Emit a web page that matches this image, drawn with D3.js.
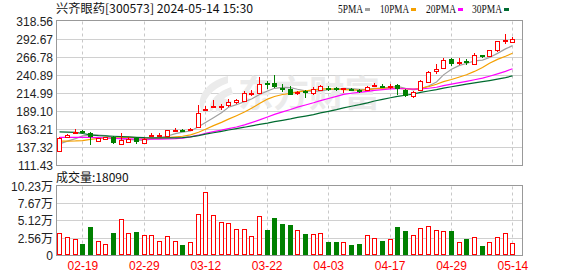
<!DOCTYPE html>
<html lang="zh">
<head>
<meta charset="utf-8">
<script src="https://d3js.org/d3.v7.min.js"></script>
<style>
  body { margin: 0; background: #fff; }
  svg { display: block; font-family: "Liberation Sans", Arial, sans-serif; }
  .cjk { font-family: "Noto Sans CJK SC", "Liberation Sans", sans-serif; }
</style>
</head>
<body>
<div id="chart"></div>
<script>
// ---- data ----
var dates = ["02-06","02-07","02-08","02-19","02-20","02-21","02-22","02-23","02-26","02-27",
  "02-28","02-29","03-01","03-04","03-05","03-06","03-07","03-08","03-11","03-12",
  "03-13","03-14","03-15","03-18","03-19","03-20","03-21","03-22","03-25","03-26",
  "03-27","03-28","03-29","04-01","04-02","04-03","04-08","04-09","04-10","04-11",
  "04-12","04-15","04-16","04-17","04-18","04-19","04-22","04-23","04-24","04-25",
  "04-26","04-29","04-30","05-06","05-07","05-08","05-09","05-10","05-13","05-14"];
var opens = [132.9,152.4,158.0,160.9,158.5,146.6,149.5,152.5,142.4,145.5,
  151.0,143.3,154.8,155.0,154.2,160.5,162.0,162.5,166.2,191.5,
  195.0,195.5,198.0,203.0,204.5,214.0,216.0,230.5,230.0,223.5,
  222.0,215.5,218.0,215.0,220.7,223.5,222.3,221.5,221.5,219.5,
  219.5,227.0,226.0,225.5,227.5,220.5,211.5,219.5,231.5,247.5,
  251.5,265.0,259.0,261.5,258.0,270.3,269.5,277.5,290.0,289.5];
var highs = [152.2,157.0,163.3,162.3,159.4,151.5,153.0,153.5,157.5,152.0,
  152.0,150.5,158.0,157.5,163.2,165.0,164.0,165.5,198.0,196.5,
  205.0,200.5,207.0,207.5,218.0,219.7,238.5,233.0,241.0,228.0,
  225.5,218.5,219.7,224.0,227.8,226.4,224.0,223.5,223.0,221.0,
  226.0,230.0,228.5,229.0,229.0,221.0,219.0,235.0,247.5,258.0,
  266.0,266.0,266.5,264.0,273.0,271.0,278.0,291.0,301.0,296.0];
var lows = [131.0,150.4,157.0,157.0,141.5,145.5,148.5,143.0,141.0,143.5,
  143.0,142.0,153.5,153.5,153.5,159.0,159.0,161.0,165.0,190.0,
  194.5,191.0,195.5,200.5,203.0,212.0,214.0,222.0,223.0,217.0,
  212.5,213.5,208.0,213.0,218.7,219.0,219.0,215.8,218.5,215.5,
  218.0,225.5,222.5,222.0,212.5,210.5,209.0,218.0,230.0,243.5,
  250.5,254.0,255.5,255.5,257.0,266.0,268.5,274.0,286.5,287.0];
var closes = [150.8,155.2,159.0,157.6,152.6,150.8,152.0,144.5,147.9,150.0,
  145.5,149.5,156.0,155.8,162.8,162.0,161.0,163.5,187.1,193.0,
  196.5,197.0,203.0,205.0,215.0,215.5,229.0,228.5,224.5,222.0,
  213.5,217.0,216.5,221.0,225.4,222.0,221.0,222.5,220.0,217.0,
  224.5,227.8,225.0,226.5,222.0,211.0,217.0,233.0,246.0,250.5,
  262.5,258.0,260.5,259.0,270.0,267.5,277.0,290.0,291.5,293.0];
// volume, unit 万
var volumes = [3.33,2.73,2.43,1.74,4.27,2.14,1.69,3.38,5.41,3.33,
  3.53,3.03,3.03,2.14,2.88,2.14,1.59,1.99,6.16,9.44,
  6.01,4.97,4.82,3.92,3.92,2.88,5.86,3.82,5.61,4.72,
  4.57,3.77,3.23,3.18,3.33,2.04,2.04,1.99,1.59,1.74,
  3.03,2.58,2.19,2.43,4.27,3.67,3.03,4.12,4.37,3.77,
  3.63,3.67,1.99,2.48,2.73,1.44,1.99,2.73,3.33,1.81];
// moving-average values on the first days (their window reaches before the visible range)
var ma5Head = [142.5,146.5,150.0,154.0];
var ma10Head = [146.6,146.6,146.8,147.2,149.0,150.5,151.0,151.2,151.5];
var ma20Head = [151.8,151.8,151.8,151.8,151.8,151.5,151.0,150.5,150.0,149.7,
  149.5,149.3,149.3,149.5,149.8,150.2,150.8,152.5,155.0];
var ma30Head = [159.8,159.5,159.0,157.5,155.5,154.5,154.0,153.5,153.0,152.5,
  152.0,151.5,151.3,151.2,151.2,151.3,151.6,152.5,154.5,156.5,
  158.5,160.5,162.5,164.5,166.5,168.5,170.5,172.5,174.5];

var priceTicks = [111.43,137.32,163.21,189.10,214.99,240.89,266.78,292.67,318.56];
var volTicks = [0,2.56,5.12,7.67,10.23];
var dateTicks = ["02-19","02-29","03-12","03-22","04-03","04-17","04-29","05-14"];

var title = "兴齐眼药[300573] 2024-05-14 15:30";
var volTitle = "成交量:18090";
var maNames = ["5PMA","10PMA","20PMA","30PMA"];
var maColors = ["#a0a0a0","#f5a000","#ff00ff","#006b30"];

var RED = "#ff0000", GREEN = "#008000";

// ---- layout ----
var W = 578, H = 276;
var left = 56, right = 522;
var mainTop = 21.5, mainBottom = 165.5;
var volTop = 186.5, volBottom = 255.5;

var svg = d3.select("#chart").append("svg")
  .attr("width", W).attr("height", H);

var x = d3.scaleBand().domain(dates).range([left, right])
  .paddingInner(0).paddingOuter(0.34).align(0);
var cx = function (d) { return Math.floor(x(d) + x.bandwidth() / 2); };

var y = d3.scaleLinear().domain([priceTicks[0], priceTicks[priceTicks.length - 1]])
  .range([mainBottom, mainTop]);
var yv = d3.scaleLinear().domain([0, 10.23]).range([volBottom, volTop]);

function maSeries(n, head) {
  return closes.map(function (c, i) {
    if (i < head.length) return head[i];
    return d3.mean(closes.slice(i - n + 1, i + 1));
  });
}
var mas = [maSeries(5, ma5Head), maSeries(10, ma10Head), maSeries(20, ma20Head), maSeries(30, ma30Head)];

// ---- grids ----
var grid = svg.append("g");
grid.selectAll(".hg").data(priceTicks.slice(1, -1)).enter().append("line")
  .attr("x1", left).attr("x2", right + 0.5)
  .attr("y1", function (d) { return Math.round(y(d) - 0.5) + 0.5; })
  .attr("y2", function (d) { return Math.round(y(d) - 0.5) + 0.5; })
  .attr("stroke", "#d0d0d0");
grid.selectAll(".vg").data(volTicks.slice(1, -1)).enter().append("line")
  .attr("x1", left).attr("x2", right + 0.5)
  .attr("y1", function (d) { return Math.round(yv(d) - 0.5) + 0.5; })
  .attr("y2", function (d) { return Math.round(yv(d) - 0.5) + 0.5; })
  .attr("stroke", "#d0d0d0");
[[mainTop, mainBottom], [volTop, volBottom]].forEach(function (r) {
  grid.selectAll(null).data(dateTicks).enter().append("line")
    .attr("x1", function (d) { return cx(d) + 0.5; })
    .attr("x2", function (d) { return cx(d) + 0.5; })
    .attr("y1", r[0]).attr("y2", r[1])
    .attr("stroke", "#c8c8c8").attr("stroke-dasharray", "3,3");
});

// ---- watermark ----
var wm = svg.append("g").attr("fill", "#ebebeb");
wm.append("path")
  .attr("d", "M228,76 C204,82 194,100 203,113 C203,100 211,89 228,83 Z M231,87 C214,93 207,104 211,113 C215,104 222,98 233,94 Z M223,98 C214,104 214,110 218,113 C222,108 226,104 233,102 Z");
wm.append("text").attr("class", "cjk")
  .attr("x", 238).attr("y", 107)
  .attr("font-size", 36).attr("font-weight", "bold")
  .attr("textLength", 142).attr("lengthAdjust", "spacingAndGlyphs")
  .text("东方财富");

// ---- MA lines ----
var line = d3.line()
  .x(function (d, i) { return cx(dates[i]) + 0.5; })
  .y(function (d) { return y(d); });
svg.append("g").selectAll("path").data(mas).enter().append("path")
  .attr("d", line)
  .attr("fill", "none")
  .attr("stroke", function (d, i) { return maColors[i]; })
  .attr("stroke-width", 1.2);

// ---- candles ----
var candles = svg.append("g").selectAll("g").data(dates).enter().append("g");
candles.append("line")
  .attr("x1", function (d) { return cx(d) + 0.5; })
  .attr("x2", function (d) { return cx(d) + 0.5; })
  .attr("y1", function (d, i) { return Math.round(y(highs[i])); })
  .attr("y2", function (d, i) { return Math.round(y(lows[i])); })
  .attr("stroke", function (d, i) { return closes[i] >= opens[i] ? RED : GREEN; });
candles.each(function (d, i) {
  var up = closes[i] >= opens[i];
  var top = Math.round(y(Math.max(opens[i], closes[i])));
  var bot = Math.round(y(Math.min(opens[i], closes[i])));
  var g = d3.select(this);
  if (up) {
    g.append("rect")
      .attr("x", cx(d) - 2 + 0.5).attr("y", top + 0.5)
      .attr("width", 4).attr("height", Math.max(bot - top, 1))
      .attr("fill", "#fff").attr("stroke", RED);
  } else {
    g.append("rect")
      .attr("x", cx(d) - 2).attr("y", top)
      .attr("width", 5).attr("height", Math.max(bot - top, 2))
      .attr("fill", GREEN);
  }
});

// ---- volume bars ----
svg.append("g").selectAll("rect").data(volumes).enter().append("rect")
  .each(function (v, i) {
    var up = closes[i] >= opens[i];
    var top = Math.round(yv(v));
    var r = d3.select(this);
    if (up) {
      r.attr("x", cx(dates[i]) - 2 + 0.5).attr("y", top + 0.5)
        .attr("width", 4).attr("height", Math.floor(volBottom) - top - 1)
        .attr("fill", "#fff").attr("stroke", RED);
    } else {
      r.attr("x", cx(dates[i]) - 2).attr("y", top)
        .attr("width", 5).attr("height", Math.floor(volBottom) - top)
        .attr("fill", GREEN);
    }
  });

// ---- frames ----
[[mainTop, mainBottom], [volTop, volBottom]].forEach(function (r) {
  svg.append("rect")
    .attr("x", left + 0.5).attr("y", r[0] - 1)
    .attr("width", right - left).attr("height", r[1] - r[0] + 1)
    .attr("fill", "none").attr("stroke", "#999");
});

// ---- axes ----
var yAxis = svg.append("g").attr("transform", "translate(" + left + ",0)")
  .call(d3.axisLeft(y).tickValues(priceTicks).tickSize(0).tickPadding(3)
    .tickFormat(function (d) { return d.toFixed(2); }));
var vAxis = svg.append("g").attr("transform", "translate(" + left + ",0)")
  .call(d3.axisLeft(yv).tickValues(volTicks).tickSize(0).tickPadding(3)
    .tickFormat(function (d) { return d === 0 ? "0" : d.toFixed(2) + "万"; }));
var xAxis = svg.append("g").attr("transform", "translate(0," + volBottom + ")")
  .call(d3.axisBottom(x).tickValues(dateTicks).tickSize(0).tickPadding(6));
[yAxis, vAxis, xAxis].forEach(function (a) {
  a.select(".domain").remove();
  a.selectAll("text").attr("font-size", 12)
    .attr("font-family", "'Liberation Sans', 'Noto Sans CJK SC', sans-serif")
    .attr("fill", "#222");
});
xAxis.selectAll("text").attr("fill", RED);

// ---- titles and legend ----
svg.append("text").attr("class", "cjk")
  .attr("x", 56).attr("y", 13).attr("font-size", 12).attr("fill", "#111")
  .attr("textLength", 197).attr("lengthAdjust", "spacingAndGlyphs")
  .text(title);
svg.append("text").attr("class", "cjk")
  .attr("x", 56).attr("y", 182).attr("font-size", 12).attr("fill", "#111")
  .text(volTitle);

var legendX = [338, 380, 426, 472];
var legendW = [25, 29, 30, 30];
var legend = svg.append("g").selectAll("g").data(maNames).enter().append("g");
legend.append("text")
  .attr("x", function (d, i) { return legendX[i]; })
  .attr("y", 13).attr("font-size", 12.5).attr("fill", "#111")
  .attr("font-family", "'Liberation Serif', serif")
  .attr("textLength", function (d, i) { return legendW[i]; })
  .attr("lengthAdjust", "spacingAndGlyphs")
  .text(function (d) { return d; });
legend.append("rect")
  .attr("x", function (d, i) { return legendX[i] + legendW[i] + 2; })
  .attr("y", 8).attr("width", 5).attr("height", 3)
  .attr("fill", function (d, i) { return maColors[i]; });
</script>
</body>
</html>
